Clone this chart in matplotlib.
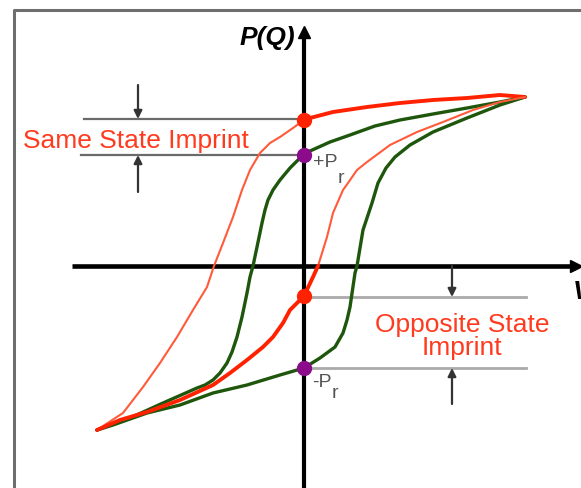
import matplotlib
matplotlib.use("Agg")
import matplotlib.pyplot as plt

plt.rcParams['font.family'] = ['Liberation Sans', 'DejaVu Sans']

# normal (unimprinted) loop, falling and rising branches
green_down_v = [2.21, 1.96, 1.63, 1.29, 0.96, 0.71, 0.46, 0.26, 0.06, 0.00, -0.06, -0.14, -0.24, -0.31,
                -0.36, -0.39, -0.42, -0.47, -0.51, -0.54, -0.57, -0.62, -0.67, -0.72, -0.77, -0.84,
                -0.91, -0.99, -1.07, -1.41, -1.74, -2.07]
green_down_p = [1.69, 1.64, 1.58, 1.52, 1.46, 1.40, 1.31, 1.24, 1.15, 1.11, 1.06, 0.98, 0.86, 0.76,
                0.66, 0.56, 0.43, 0.19, 0.00, -0.11, -0.27, -0.51, -0.71, -0.86, -0.97, -1.07,
                -1.14, -1.19, -1.22, -1.37, -1.52, -1.64]
green_up_v = [-2.07, -1.91, -1.57, -1.24, -0.91, -0.57, -0.24, 0.00, 0.16, 0.31, 0.39, 0.43, 0.46,
              0.51, 0.53, 0.59, 0.68, 0.74, 0.82, 0.91, 1.06, 1.29, 1.63, 1.96, 2.21]
green_up_p = [-1.64, -1.59, -1.47, -1.39, -1.27, -1.19, -1.09, -1.02, -0.92, -0.81, -0.67, -0.54, -0.41,
              -0.07, 0.00, 0.36, 0.63, 0.83, 0.98, 1.09, 1.21, 1.34, 1.48, 1.61, 1.69]

# imprinted loop (shifted)
red_down_v = [2.21, 1.96, 1.63, 1.29, 0.96, 0.63, 0.29, 0.06, 0.00, -0.11, -0.24, -0.34, -0.44, -0.54,
              -0.62, -0.71, -0.81, -0.90, -0.97, -1.11, -1.27, -1.44, -1.61, -1.81, -2.07]
red_down_p = [1.69, 1.71, 1.68, 1.66, 1.63, 1.59, 1.54, 1.48, 1.46, 1.38, 1.29, 1.23, 1.13, 0.96,
              0.76, 0.49, 0.23, 0.00, -0.21, -0.44, -0.71, -0.97, -1.21, -1.47, -1.64]
red_up_v = [-2.07, -1.84, -1.57, -1.24, -0.91, -0.74, -0.57, -0.41, -0.31, -0.21, -0.14, 0.00, 0.09,
            0.14, 0.23, 0.29, 0.39, 0.44, 0.53, 0.63, 0.86, 1.13, 1.39, 1.69, 1.96, 2.21]
red_up_p = [-1.64, -1.54, -1.46, -1.34, -1.19, -1.07, -0.94, -0.81, -0.71, -0.57, -0.44, -0.30, -0.11,
            0.00, 0.29, 0.53, 0.76, 0.83, 0.96, 1.04, 1.21, 1.34, 1.44, 1.56, 1.64, 1.69]

green_pr = [1.11, -1.02]   # +Pr, -Pr
red_pr = [1.46, -0.30]     # imprinted remanent values

GREEN = '#1e560c'
RED = '#ff2200'
RED_THIN = '#ff5a3a'
PURPLE = '#8b0b8b'
LABEL_RED = '#ff3b1f'

fig = plt.figure(figsize=(5.81, 4.88), dpi=100)
ax = fig.add_axes([0, 0, 1, 1])
ax.set_xlim(-3.04, 2.77)
ax.set_ylim(-2.22, 2.66)
ax.axis('off')

# outer frame (left and top edges)
ax.plot([-2.90, -2.90, 2.80], [-2.30, 2.56, 2.56], color='#6e6e6e', lw=2.2, solid_capstyle='butt')

# axes with arrow heads
ax.plot([-2.32, 2.70], [0, 0], color='black', lw=3.3, solid_capstyle='butt')
ax.plot([0, 0], [-2.30, 2.32], color='black', lw=3.0, solid_capstyle='butt')
ax.plot([2.72], [0], marker='>', color='black', ms=9)
ax.plot([0], [2.34], marker='^', color='black', ms=8)

# imprint brackets
ax.plot([-2.20, 0], [1.47, 1.47], color='#6a6a6a', lw=1.6)
ax.plot([-2.23, 0], [1.11, 1.11], color='#6a6a6a', lw=1.6)
ax.plot([0.08, 2.22], [-0.31, -0.31], color='#aaaaaa', lw=2.0)
ax.plot([0.08, 2.22], [-1.02, -1.02], color='#aaaaaa', lw=2.0)
arrow = dict(arrowstyle='-|>', color='#333333', lw=1.6, mutation_scale=12, shrinkA=0, shrinkB=0)
ax.annotate('', xy=(-1.66, 1.47), xytext=(-1.66, 1.81), arrowprops=arrow)
ax.annotate('', xy=(-1.66, 1.11), xytext=(-1.66, 0.74), arrowprops=arrow)
ax.annotate('', xy=(1.48, -0.31), xytext=(1.48, 0.0), arrowprops=arrow)
ax.annotate('', xy=(1.48, -1.02), xytext=(1.48, -1.38), arrowprops=arrow)

# loops
line_kw = dict(solid_joinstyle='round', solid_capstyle='round')
ax.plot(green_down_v, green_down_p, color=GREEN, lw=2.4, **line_kw)
ax.plot(green_up_v, green_up_p, color=GREEN, lw=2.4, **line_kw)
ax.plot(red_down_v[8:], red_down_p[8:], color=RED_THIN, lw=1.5, **line_kw)
ax.plot(red_down_v[:9], red_down_p[:9], color=RED, lw=2.8, **line_kw)
ax.plot(red_up_v[13:], red_up_p[13:], color=RED_THIN, lw=1.5, **line_kw)
ax.plot(red_up_v[:14], red_up_p[:14], color=RED, lw=2.8, **line_kw)

ax.plot([0, 0], red_pr, 'o', color=RED, ms=10, zorder=5)
ax.plot([0, 0], green_pr, 'o', color=PURPLE, ms=10, zorder=5)

# labels
ax.text(-0.09, 2.21, 'P(Q)', fontsize=19, fontweight='bold', fontstyle='italic',
        ha='right', va='baseline')
ax.text(2.69, -0.14, 'V', fontsize=19, fontweight='bold', fontstyle='italic', ha='left', va='top')
ax.text(0.09, 0.99, '+P', fontsize=14, color='#555555', ha='left', va='baseline')
ax.text(0.34, 0.83, 'r', fontsize=14, color='#555555', ha='left', va='baseline')
ax.text(0.08, -1.21, '-P', fontsize=14, color='#555555', ha='left', va='baseline')
ax.text(0.28, -1.32, 'r', fontsize=14, color='#555555', ha='left', va='baseline')
ax.text(-2.81, 1.18, 'Same State Imprint', fontsize=19, color=LABEL_RED, ha='left', va='baseline')
ax.text(1.58, -0.66, 'Opposite State', fontsize=19, color=LABEL_RED, ha='center', va='baseline')
ax.text(1.58, -0.89, 'Imprint', fontsize=19, color=LABEL_RED, ha='center', va='baseline')

fig.savefig('out.png', dpi=100)
